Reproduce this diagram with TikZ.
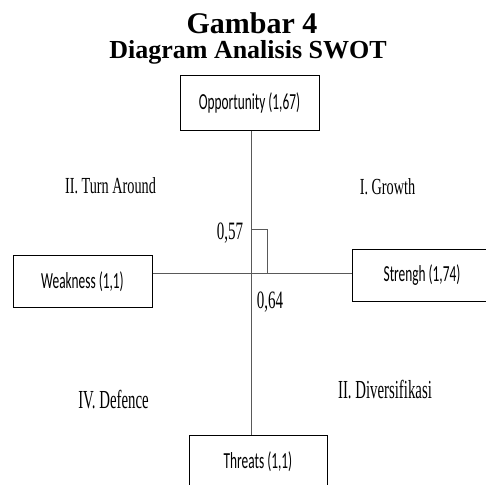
\documentclass[tikz,border=0pt]{standalone}
\usepackage{fontspec}
\setmainfont{Liberation Serif}
\newfontfamily\boxfont[FakeStretch=0.58]{Carlito}
\newfontfamily\condserifA[FakeStretch=0.62]{Liberation Serif}
\newfontfamily\condserifB[FakeStretch=0.57]{Liberation Serif}
\newfontfamily\condserifN[FakeStretch=0.6]{Liberation Serif}
\begin{document}
\begin{tikzpicture}[x=1pt,y=-1pt,
  swotbox/.style={draw=black,line width=1pt,fill=white,inner sep=0pt,font=\boxfont\fontsize{23}{25}\selectfont},
  axisline/.style={draw=black!65,line width=1pt},
  quadtop/.style={inner sep=0pt,anchor=base,font=\condserifA\fontsize{23}{25}\selectfont},
  quadbot/.style={inner sep=0pt,anchor=base,font=\condserifB\fontsize{26}{28}\selectfont},
  numlabel/.style={inner sep=0pt,anchor=base,font=\condserifN\fontsize{25}{27}\selectfont}]
\useasboundingbox[fill=white] (0,0) rectangle (486,484);
\node[inner sep=0pt,anchor=base,font=\bfseries\fontsize{30}{32}\selectfont] (t1) at (252,34) {Gambar 4};
\node[inner sep=0pt,anchor=base,font=\bfseries\fontsize{26}{28}\selectfont] (t2) at (248,59) {Diagram Analisis SWOT};
\coordinate (c) at (251,273);
\node[swotbox,minimum width=139pt,minimum height=54pt] (opp) at (249.5,103) {Opportunity (1,67)};
\node[swotbox,minimum width=139pt,minimum height=52pt,text height=15pt,text depth=1pt] (wk) at (82.5,281) {Weakness (1,1)};
\node[swotbox,minimum width=140pt,minimum height=52pt] (st) at (422,275) {Strengh (1,74)};
\node[swotbox,minimum width=138pt,minimum height=54pt] (thr) at (258,462) {Threats (1,1)};
\draw[axisline] (c |- opp.south) -- (c |- thr.north);
\draw[axisline] (wk.east |- c) -- (st.west |- c);
\coordinate (b1) at (251,229);
\coordinate (b2) at (267,229);
\coordinate (b3) at (267,273);
\draw[axisline] (b1) -- (b2) -- (b3);
\node[numlabel] (n57) at (230,239) {0,57};
\node[numlabel] (n64) at (270,308) {0,64};
\node[quadtop] (q2) at (110.5,193) {II. Turn Around};
\node[quadtop] (q1) at (387.5,194) {I. Growth};
\node[quadbot] (q4) at (113.5,408) {IV. Defence};
\node[quadbot] (q3) at (385,398) {II. Diversifikasi};
\end{tikzpicture}
\end{document}
